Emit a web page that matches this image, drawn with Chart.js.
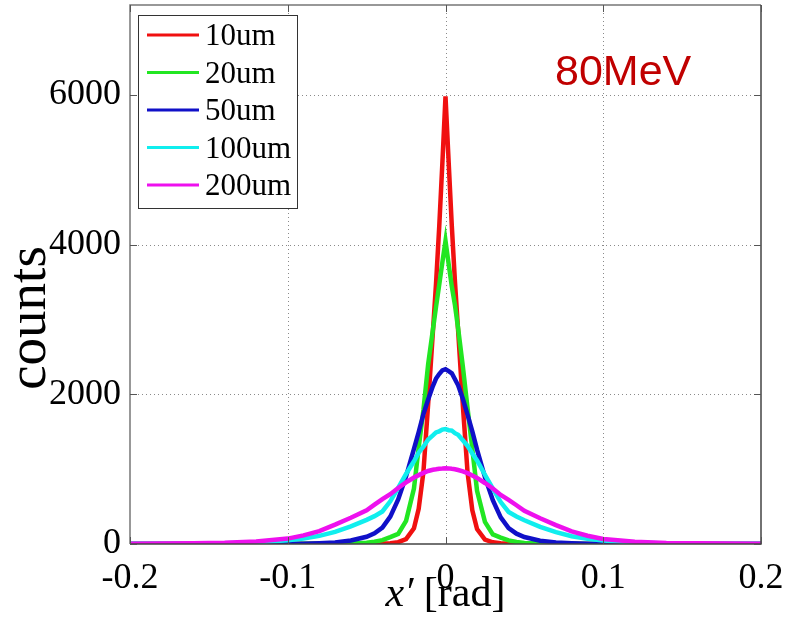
<!DOCTYPE html>
<html>
<head>
<meta charset="utf-8">
<script src="https://cdn.jsdelivr.net/npm/chart.js@4.4.1/dist/chart.umd.min.js"></script>
<style>
  html, body { margin: 0; padding: 0; background: #ffffff; }
  #wrap { width: 786px; height: 633px; }
</style>
</head>
<body>
<div id="wrap"><canvas id="c" width="786" height="633"></canvas></div>
<script>
// x' [rad] sample positions
const xs = [-0.2,-0.18,-0.16,-0.14,-0.12,-0.1,-0.09,-0.08,-0.07,-0.06,-0.05,-0.045,-0.04,-0.035,-0.03,-0.025,-0.02,-0.017,-0.014,-0.011,-0.008,-0.006,-0.004,-0.002,
  0,
  0.002,0.004,0.006,0.008,0.011,0.014,0.017,0.02,0.025,0.03,0.035,0.04,0.045,0.05,0.06,0.07,0.08,0.09,0.1,0.12,0.14,0.16,0.18,0.2];

const seriesNames = ['10um', '20um', '50um', '100um', '200um'];

const counts10um = [1,1,1,1,1,1,1,2,2,3,3,5,7,11,24,65,210,470,960,1870,2830,3480,4230,5080,
  5980,
  5100,4250,3500,2850,1850,950,450,200,60,22,10,6,4,3,2,2,1,1,1,1,1,1,1,1];
const counts20um = [1,1,1,1,1,1,2,2,3,7,17,30,52,92,135,310,740,1290,1790,2400,2860,3170,3460,3760,
  4050,
  3740,3440,3190,2880,2370,1810,1270,710,295,128,86,48,27,15,6,3,2,1,1,1,1,1,1,1];
const counts50um = [1,1,1,1,2,3,5,11,21,46,97,142,218,365,595,905,1270,1495,1735,1930,2110,2210,2270,2320,
  2335,
  2310,2280,2200,2120,1940,1725,1505,1260,895,585,355,212,138,93,44,19,10,5,3,2,1,1,1,1];
const counts100um = [2,3,5,9,21,50,74,108,162,235,322,372,435,570,750,935,1105,1220,1300,1395,1450,1490,1505,1528,
  1535,
  1520,1515,1480,1460,1385,1310,1210,1115,925,740,560,428,368,318,228,158,103,70,47,19,8,4,3,2];
const counts200um = [5,6,9,16,33,72,115,172,258,350,450,525,600,665,748,822,888,920,950,975,992,998,1006,1008,
  1012,
  1010,1004,999,988,970,946,916,883,815,742,655,590,518,442,343,252,168,110,68,31,14,9,6,5];

const xTickValues = [-0.2, -0.1, 0, 0.1, 0.2];
const xTickLabels = ['-0.2', '-0.1', '0', '0.1', '0.2'];
const yTickValues = [0, 2000, 4000, 6000];
const yTickLabels = ['0', '2000', '4000', '6000'];

const seriesValues = [counts10um, counts20um, counts50um, counts100um, counts200um];
const seriesColors = ['#f01010', '#22e622', '#1010c8', '#10eeee', '#ee10ee'];

const datasets = seriesNames.map((name, i) => ({
  label: name,
  data: xs.map((x, k) => ({ x: x, y: seriesValues[i][k] })),
  borderColor: seriesColors[i],
  backgroundColor: seriesColors[i],
  borderWidth: 4.5,
  pointRadius: 0,
  tension: 0,
  fill: false,
  order: seriesNames.length - i
}));

const SERIF = '"Liberation Serif", "Times New Roman", serif';

function zeroPad(scale) {
  scale.paddingLeft = 0; scale.paddingRight = 0;
  scale.paddingTop = 0; scale.paddingBottom = 0;
}

const decorPlugin = {
  id: 'decor',
  beforeDatasetsDraw(chart) {
    const ctx = chart.ctx, a = chart.chartArea;
    const xs_ = chart.scales.x, ys_ = chart.scales.y;
    ctx.save();
    ctx.strokeStyle = '#8a8a8a';
    ctx.lineWidth = 1;
    ctx.setLineDash([1, 3]);
    xTickValues.forEach(v => {
      if (v === xTickValues[0] || v === xTickValues[xTickValues.length - 1]) return;
      const px = Math.round(xs_.getPixelForValue(v)) + 0.5;
      ctx.beginPath(); ctx.moveTo(px, a.top); ctx.lineTo(px, a.bottom); ctx.stroke();
    });
    yTickValues.forEach(v => {
      if (v === 0) return;
      const py = Math.round(ys_.getPixelForValue(v)) + 0.5;
      ctx.beginPath(); ctx.moveTo(a.left, py); ctx.lineTo(a.right, py); ctx.stroke();
    });
    ctx.restore();
  },
  afterDatasetsDraw(chart) {
    const ctx = chart.ctx, a = chart.chartArea;
    const xs_ = chart.scales.x, ys_ = chart.scales.y;
    ctx.save();
    ctx.setLineDash([]);
    ctx.lineWidth = 1.5;
    ctx.strokeStyle = '#777777';
    ctx.beginPath();
    ctx.moveTo(a.left, a.bottom); ctx.lineTo(a.left, a.top); ctx.lineTo(a.right, a.top);
    ctx.stroke();
    ctx.strokeStyle = '#444444';
    ctx.beginPath();
    ctx.moveTo(a.right, a.top); ctx.lineTo(a.right, a.bottom); ctx.lineTo(a.left, a.bottom);
    ctx.stroke();
    ctx.lineWidth = 1;
    ctx.strokeStyle = '#555555';
    const tl = 7;
    xTickValues.forEach(v => {
      const px = Math.round(xs_.getPixelForValue(v)) + 0.5;
      ctx.beginPath(); ctx.moveTo(px, a.bottom); ctx.lineTo(px, a.bottom - tl); ctx.stroke();
      ctx.beginPath(); ctx.moveTo(px, a.top); ctx.lineTo(px, a.top + tl); ctx.stroke();
    });
    yTickValues.forEach(v => {
      const py = Math.round(ys_.getPixelForValue(v)) + 0.5;
      ctx.beginPath(); ctx.moveTo(a.left, py); ctx.lineTo(a.left + tl, py); ctx.stroke();
      ctx.beginPath(); ctx.moveTo(a.right, py); ctx.lineTo(a.right - tl, py); ctx.stroke();
    });
    ctx.restore();
  },
  afterDraw(chart) {
    const ctx = chart.ctx, a = chart.chartArea;
    ctx.save();
    // legend box
    const lx = 138, ly = 15, lw = 159, lh = 193;
    ctx.fillStyle = '#ffffff';
    ctx.fillRect(lx, ly, lw, lh);
    ctx.strokeStyle = '#333333';
    ctx.lineWidth = 1;
    ctx.strokeRect(lx + 0.5, ly + 0.5, lw, lh);
    ctx.font = '31px ' + SERIF;
    ctx.textBaseline = 'middle';
    ctx.textAlign = 'left';
    seriesNames.forEach((name, i) => {
      const y = 35 + i * 37.5;
      ctx.strokeStyle = seriesColors[i];
      ctx.lineWidth = 3;
      ctx.beginPath(); ctx.moveTo(147, y); ctx.lineTo(199, y); ctx.stroke();
      ctx.fillStyle = '#000000';
      ctx.fillText(name, 205, y + 2);
    });
    // annotation
    ctx.font = '43px "Liberation Sans", Arial, sans-serif';
    ctx.fillStyle = '#c00000';
    ctx.textBaseline = 'alphabetic';
    ctx.fillText('80MeV', 555, 85);
    // y axis title
    ctx.fillStyle = '#000000';
    ctx.font = '55px ' + SERIF;
    ctx.save();
    ctx.translate(45, 318);
    ctx.rotate(-Math.PI / 2);
    ctx.textAlign = 'center';
    ctx.fillText('counts', 0, 0);
    ctx.restore();
    // x axis title (mixed italic / normal)
    const t1 = 'x\u2032', t2 = ' [rad]';
    ctx.font = 'italic 42px ' + SERIF;
    const w1 = ctx.measureText(t1).width;
    ctx.font = '42px ' + SERIF;
    const w2 = ctx.measureText(t2).width;
    const cx = (a.left + a.right) / 2;
    const x0 = cx - (w1 + w2) / 2;
    ctx.textAlign = 'left';
    ctx.font = 'italic 42px ' + SERIF;
    ctx.fillText(t1, x0, 606);
    ctx.font = '42px ' + SERIF;
    ctx.fillText(t2, x0 + w1, 606);
    ctx.restore();
  }
};

new Chart(document.getElementById('c'), {
  type: 'line',
  data: { datasets: datasets },
  plugins: [decorPlugin],
  options: {
    responsive: false,
    animation: false,
    layout: { padding: { top: 5, right: 25, left: 0, bottom: 0 } },
    plugins: {
      legend: { display: false },
      tooltip: { enabled: false }
    },
    scales: {
      x: {
        type: 'linear',
        min: -0.2,
        max: 0.2,
        grid: { display: false, drawTicks: false },
        border: { display: false },
        afterBuildTicks(scale) { scale.ticks = xTickValues.map(v => ({ value: v })); },
        afterFit(scale) { scale.height = 89; zeroPad(scale); },
        ticks: {
          autoSkip: false,
          maxRotation: 0,
          padding: 13,
          color: '#000000',
          font: { family: SERIF, size: 36 },
          callback: (v, i) => xTickLabels[i]
        },
        title: { display: false }
      },
      y: {
        type: 'linear',
        min: 0,
        max: 7200,
        grid: { display: false, drawTicks: false },
        border: { display: false },
        afterBuildTicks(scale) { scale.ticks = yTickValues.map(v => ({ value: v })); },
        afterFit(scale) { scale.width = 130; zeroPad(scale); },
        ticks: {
          padding: 9,
          color: '#000000',
          font: { family: SERIF, size: 36 },
          callback: (v, i) => yTickLabels[i]
        },
        title: { display: false }
      }
    }
  }
});
</script>
</body>
</html>
